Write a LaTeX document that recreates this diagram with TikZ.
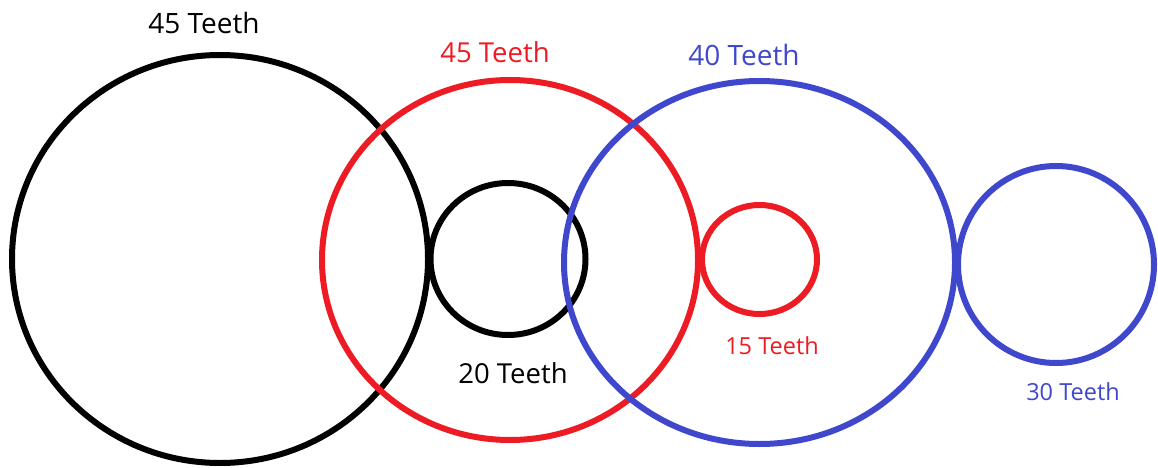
\documentclass[tikz,border=0pt]{standalone}
\usepackage{fontspec}
\setmainfont{Open Sans}
\definecolor{gred}{HTML}{ED1C24}
\definecolor{gblue}{HTML}{3F48CC}
\tikzset{
  gear/.style={line width=6pt},
  lbl/.style={inner sep=0pt, anchor=center},
}
\begin{document}
\begin{tikzpicture}[x=1pt,y=-1pt]
\useasboundingbox (0,0) rectangle (1158,468);
% gears
\draw[gear, black] (220,259) ellipse [x radius=208pt, y radius=204pt];
\draw[gear, gred] (510,260) ellipse [x radius=188pt, y radius=180pt];
\draw[gear, black] (508,259) ellipse [x radius=77.5pt, y radius=76pt];
\draw[gear, gblue] (759.5,262.5) ellipse [x radius=195.5pt, y radius=181.5pt];
\draw[gear, gred] (759.5,259.5) ellipse [x radius=57.5pt, y radius=54.5pt];
\draw[gear, gblue] (1056,264.5) ellipse [x radius=98pt, y radius=98.5pt];
% labels
\node[lbl, black, font=\fontsize{28}{30}\selectfont] (l1) at (204,23) {45 Teeth};
\node[lbl, gred, font=\fontsize{27.5}{30}\selectfont] (l2) at (495,52) {45 Teeth};
\node[lbl, gblue, font=\fontsize{28}{30}\selectfont] (l3) at (744,55) {40 Teeth};
\node[lbl, black, font=\fontsize{27.5}{30}\selectfont] (l4) at (513,373) {20 Teeth};
\node[lbl, gred, font=\fontsize{23.5}{26}\selectfont] (l5) at (772,346) {15 Teeth};
\node[lbl, gblue, font=\fontsize{23.5}{26}\selectfont] (l6) at (1073,392) {30 Teeth};
\end{tikzpicture}
\end{document}
